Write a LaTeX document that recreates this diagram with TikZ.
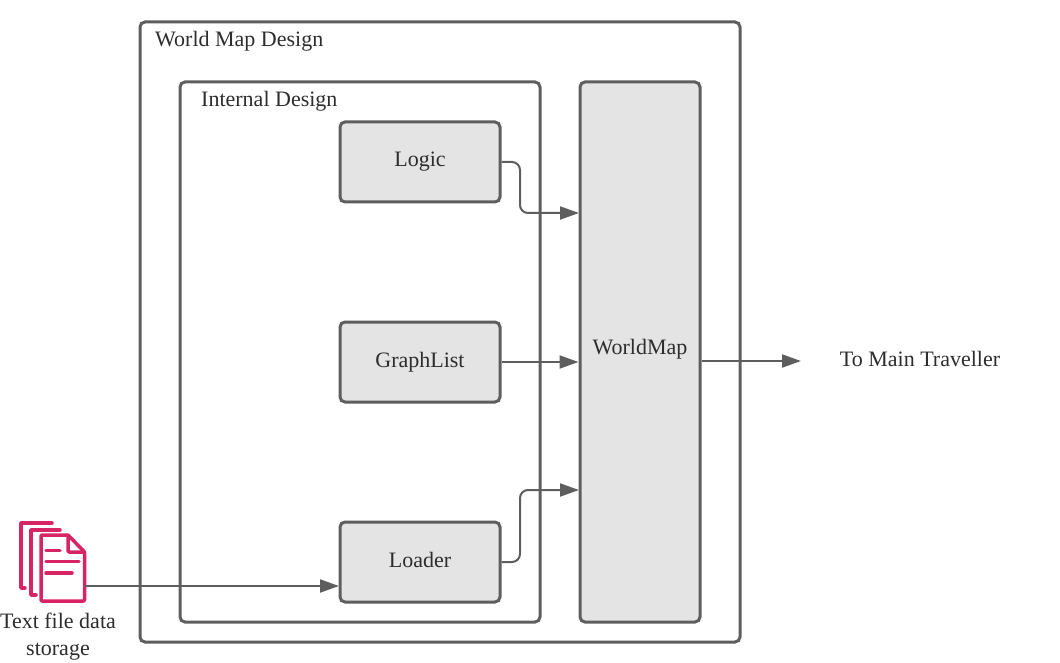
\documentclass[tikz,border=0pt]{standalone}
\usepackage{fontspec}
\setmainfont{Liberation Serif}
\usetikzlibrary{arrows.meta}
\definecolor{mapline}{RGB}{94,94,94}
\definecolor{mapfill}{RGB}{228,228,228}
\definecolor{maptext}{RGB}{45,45,45}
\definecolor{mappink}{RGB}{214,36,100}
\tikzset{
  panel/.style={draw=mapline,line width=3pt,rounded corners=5pt,inner sep=0pt},
  module/.style={panel,fill=mapfill,text=maptext,font=\fontsize{22}{27}\selectfont,minimum width=160pt,minimum height=80pt,text height=15pt,text depth=5pt},
  caption/.style={text=maptext,font=\fontsize{22}{27}\selectfont,inner sep=0pt,text height=15pt,text depth=5pt},
  link/.style={draw=mapline,line width=2pt,rounded corners=8pt,-{Triangle[length=19pt,width=13pt]}},
  pinkline/.style={draw=mappink,line width=3.5pt,line cap=round,line join=round}
}
\begin{document}
\begin{tikzpicture}[x=1pt,y=-1pt]
  \useasboundingbox (0,0) rectangle (1060,663);
  % containers
  \node[panel,minimum width=600pt,minimum height=620pt] (design) at (440,332) {};
  \node[panel,minimum width=360pt,minimum height=540pt] (internal) at (360,352) {};
  \node[caption,anchor=west] (designlabel) at (155,42) {World Map Design};
  \node[caption,anchor=west] (internallabel) at (201,102) {Internal Design};
  % modules
  \node[module] (logic) at (420,162) {Logic};
  \node[module] (graphlist) at (420,362) {GraphList};
  \node[module] (loader) at (420,562) {Loader};
  \node[module,minimum width=120pt,minimum height=540pt] (worldmap) at (640,352) {};
  \node[caption] (worldlabel) at (640,349) {WorldMap};
  \node[caption] (traveller) at (920,361) {To Main Traveller};
  % file icon
  \node[minimum width=45pt,minimum height=66pt,inner sep=0pt] (files) at (62.5,568) {};
  \draw[pinkline] (52,523) -- (21,523) -- (21,588) -- (25,588);
  \draw[pinkline] (60,530) -- (31,530) -- (31,595) -- (36,595);
  \draw[pinkline,rounded corners=1pt] (68,535) -- (41,535) -- (41,601) -- (84.5,601) -- (84.5,552) -- cycle;
  \draw[pinkline,rounded corners=1pt] (68,535) -- (68,552) -- (84.5,552);
  \draw[pinkline] (46,550.5) -- (60,550.5);
  \draw[pinkline] (46,561.5) -- (79,561.5);
  \draw[pinkline] (46,573) -- (72,573);
  \node[text=maptext,font=\fontsize{22}{27}\selectfont,inner sep=0pt,align=center] (fileslabel) at (58,637) {Text file data\\storage};
  % connectors
  \coordinate (logicin) at (579,213);
  \coordinate (loaderout) at (579,490);
  \coordinate (loaderin) at (339,586);
  \coordinate (travellerin) at (801,361);
  \draw[link] (logic.east) -- (520,162) -- (520,213) -- (logicin);
  \draw[link] (graphlist.east) -- (worldmap.west |- graphlist.east);
  \draw[link] (loader.east) -- (520,562) -- (520,490) -- (loaderout);
  \draw[link] (files.east |- loaderin) -- (loaderin);
  \draw[link] (worldmap.east |- travellerin) -- (travellerin);
\end{tikzpicture}
\end{document}
